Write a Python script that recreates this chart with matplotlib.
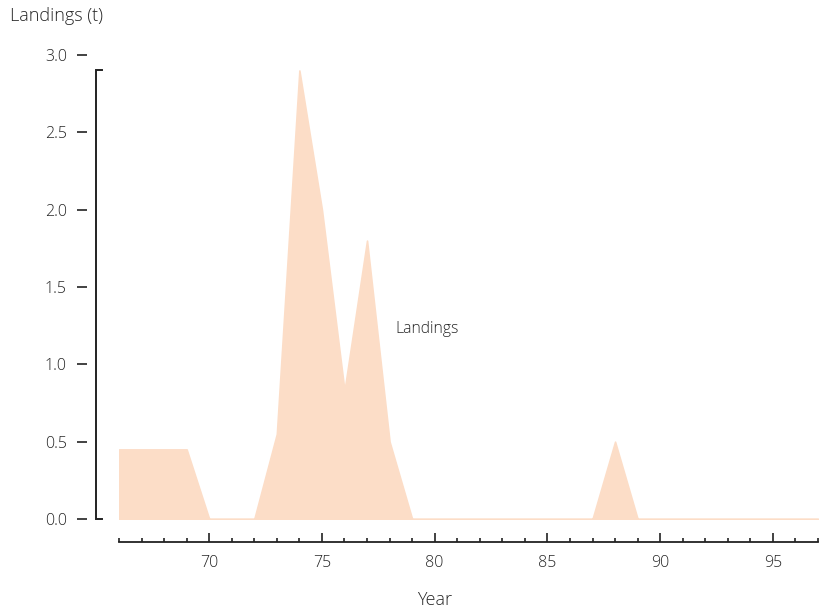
import matplotlib
matplotlib.use("Agg")
import matplotlib.pyplot as plt
from matplotlib.transforms import ScaledTranslation, blended_transform_factory
import numpy as np

years = list(range(1966, 1998))
landings = [0.45, 0.45, 0.45, 0.45, 0.0, 0.0, 0.0, 0.55, 2.9, 2.0, 0.83, 1.8, 0.5, 0.0,
            0.0, 0.0, 0.0, 0.0, 0.0, 0.0, 0.0, 0.0, 0.5, 0.0,
            0.0, 0.0, 0.0, 0.0, 0.0, 0.0, 0.0, 0.0]
yticks = [0.0, 0.5, 1.0, 1.5, 2.0, 2.5, 3.0]
xmajor = [1970, 1975, 1980, 1985, 1990, 1995]
xlabels = ["70", "75", "80", "85", "90", "95"]

plt.rcParams['font.family'] = ['Open Sans', 'DejaVu Sans']
plt.rcParams['font.weight'] = 300
txt = '#262626'
PT = 72/100  # points per pixel
W, H = 823, 613
fig = plt.figure(figsize=(W/100, H/100), dpi=100)
ax = fig.add_axes([119/W, 94/H, (818-119)/W, (519-55)/H])

peach = '#FCDDC7'
ax.fill_between(years, landings, 0, facecolor=peach, edgecolor=peach, linewidth=1.2)
ax.set_xlim(1966, 1997)
ax.set_ylim(0, 3.0)

for s in ['top', 'right']:
    ax.spines[s].set_visible(False)
ax.spines['left'].set_position(('outward', 32*PT))
ax.spines['left'].set_visible(False)
ax.spines['bottom'].set_position(('outward', 23*PT))
ax.spines['bottom'].set_color('#222222')
ax.spines['bottom'].set_linewidth(1.3)

ax.set_yticks(yticks)
ax.set_yticklabels([f"{v:.1f}" for v in yticks])
ax.tick_params(axis='y', direction='out', length=10*PT, width=1.2, pad=10*PT, colors='#222222',
               labelcolor=txt, labelsize=11.5)

ax.set_xticks(xmajor)
ax.set_xticklabels(xlabels)
ax.set_xticks(years, minor=True)
ax.tick_params(axis='x', which='major', direction='in', length=9*PT, width=1.2, pad=13*PT,
               colors='#222222', labelcolor=txt, labelsize=11.5)
ax.tick_params(axis='x', which='minor', direction='in', length=4.5*PT, width=1.2, colors='#222222')

# range-frame bracket for y axis
off = ScaledTranslation(-23/100, 0, fig.dpi_scale_trans)
tr = blended_transform_factory(ax.transAxes, ax.transData) + off
cap = 6 / (818-119)
ymax = max(landings)
ax.plot([cap, 0, 0, cap], [ymax, ymax, 0, 0], transform=tr, color='#222222',
        lw=1.4, clip_on=False, solid_joinstyle='miter')

ax.text(1978.25, 1.23, "Landings", fontsize=11.3, color=txt, va='center', ha='left')
fig.text(10/W, 1-16/H, "Landings (t)", fontsize=13, color=txt, va='center', ha='left')
fig.text(435/W, 1-600/H, "Year", fontsize=13, color=txt, va='center', ha='center')

fig.savefig("out.png", dpi=100)
